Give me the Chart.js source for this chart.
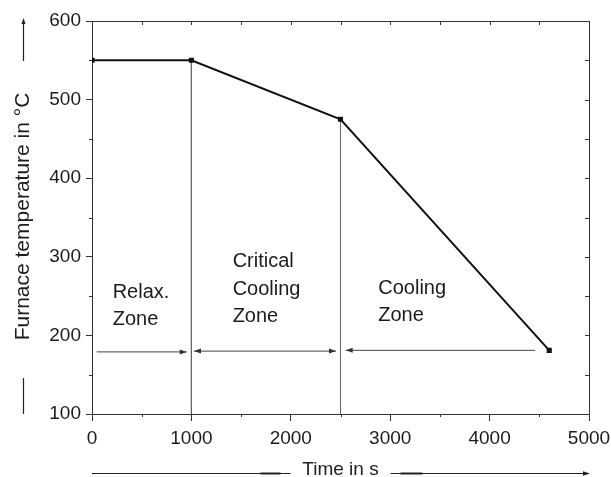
<!DOCTYPE html>
<html><head><meta charset="utf-8">
<script src="https://cdn.jsdelivr.net/npm/chart.js@4"></script>
<style>html,body{margin:0;padding:0;background:#fff}#wrap{width:611px;height:477px;position:relative}</style>
</head><body><div id="wrap"><canvas id="c"></canvas></div>
<script>
// ---- data ----
const timeS = [0, 1000, 2500, 4600];
const furnaceTempC = [550, 550, 475, 181];
const boundaryTimes = [1000, 2500];
const boundaryTopTemps = [550, 475];
const arrowStartTimes = [47, 1026, 2552];
const arrowEndTimes = [953, 2455, 4457];
const arrowTemps = [179, 180, 181];
const arrowHeads = ['end', 'both', 'start'];
const zoneLabels = [['Relax.', 'Zone'], ['Critical', 'Cooling', 'Zone'], ['Cooling', 'Zone']];
const zoneLabelTimes = [208, 1415, 2880];
const zoneLabelTemps = [248, 287, 253];
const xTickStep = 1000, xMinorStep = 500;
const yTickStep = 100, yMinorStep = 50;
const xTitle = 'Time in s';
const yTitle = 'Furnace temperature in °C';

const FONT = '"Liberation Sans", Arial, sans-serif';
const INK = '#1c1c1c';

const datasets = [{
  data: timeS.map((t, i) => ({x: t, y: furnaceTempC[i]})),
  showLine: true, borderColor: '#111', backgroundColor: '#111', borderWidth: 2,
  pointStyle: 'rect', pointRadius: 2.2, pointHoverRadius: 2.2, tension: 0
}];
boundaryTimes.forEach((t, i) => datasets.push({
  data: [{x: t, y: boundaryTopTemps[i]}, {x: t, y: 100}],
  showLine: true, borderColor: '#666', borderWidth: 1, pointRadius: 0
}));
arrowStartTimes.forEach((t, i) => datasets.push({
  data: [{x: t, y: arrowTemps[i]}, {x: arrowEndTimes[i], y: arrowTemps[i]}],
  showLine: true, borderColor: '#444', borderWidth: 1, pointRadius: 0
}));

function arrowHead(ctx, x, y, dir, len, half) {
  ctx.beginPath();
  if (dir === 'up') {
    ctx.moveTo(x, y); ctx.lineTo(x - half, y + len); ctx.lineTo(x + half, y + len);
  } else {
    ctx.moveTo(x, y); ctx.lineTo(x - dir * len, y - half); ctx.lineTo(x - dir * len, y + half);
  }
  ctx.closePath(); ctx.fill();
}

const decor = {
  id: 'decor',
  afterDraw(chart) {
    const {ctx, chartArea: ca, scales: {x, y}} = chart;
    ctx.save();
    ctx.strokeStyle = '#333'; ctx.lineWidth = 1;
    ctx.beginPath();
    ctx.moveTo(Math.round(ca.left) + 0.5, Math.round(ca.top) + 0.5);
    ctx.lineTo(Math.round(ca.right) + 0.5, Math.round(ca.top) + 0.5);
    ctx.lineTo(Math.round(ca.right) + 0.5, Math.round(ca.bottom) + 0.5);
    ctx.stroke();
    ctx.beginPath();
    for (let v = x.min; v <= x.max; v += xMinorStep) {
      const px = Math.round(x.getPixelForValue(v)) + 0.5;
      ctx.moveTo(px, ca.top); ctx.lineTo(px, ca.top + 4);
      if (v % xTickStep !== 0) { ctx.moveTo(px, ca.bottom); ctx.lineTo(px, ca.bottom + 3); }
    }
    for (let v = y.min; v <= y.max; v += yMinorStep) {
      const py = Math.round(y.getPixelForValue(v)) + 0.5;
      ctx.moveTo(ca.right, py); ctx.lineTo(ca.right - 4, py);
      if (v % yTickStep !== 0) { ctx.moveTo(ca.left, py); ctx.lineTo(ca.left - 3, py); }
    }
    ctx.stroke();
    ctx.fillStyle = '#333';
    arrowStartTimes.forEach((t, i) => {
      const py = y.getPixelForValue(arrowTemps[i]);
      if (arrowHeads[i] === 'end' || arrowHeads[i] === 'both') arrowHead(ctx, x.getPixelForValue(arrowEndTimes[i]), py, 1, 7, 2.5);
      if (arrowHeads[i] === 'start' || arrowHeads[i] === 'both') arrowHead(ctx, x.getPixelForValue(t), py, -1, 7, 2.5);
    });
    ctx.fillStyle = INK; ctx.font = '20px ' + FONT; ctx.textAlign = 'left'; ctx.textBaseline = 'alphabetic';
    zoneLabels.forEach((lines, i) => {
      const px = x.getPixelForValue(zoneLabelTimes[i]);
      const py = y.getPixelForValue(zoneLabelTemps[i]);
      lines.forEach((s, k) => ctx.fillText(s, px, py + k * 27.5));
    });
    const ty = (ca.top + ca.bottom) / 2 - 1;
    ctx.save();
    ctx.translate(23, ty); ctx.rotate(-Math.PI / 2);
    ctx.font = '21px ' + FONT; ctx.textAlign = 'center'; ctx.textBaseline = 'middle';
    ctx.fillText(yTitle, 0, 0);
    ctx.restore();
    ctx.strokeStyle = '#222'; ctx.lineWidth = 1.2;
    ctx.beginPath();
    ctx.moveTo(23.5, ca.top + 40); ctx.lineTo(23.5, ca.top - 1);
    ctx.moveTo(23.5, ca.bottom - 36); ctx.lineTo(23.5, ca.bottom);
    ctx.stroke();
    ctx.fillStyle = '#222';
    arrowHead(ctx, 23.5, ca.top - 3, 'up', 6, 2);
    const tx = (ca.left + ca.right) / 2;
    const tyX = 470;
    ctx.font = '19px ' + FONT; ctx.textAlign = 'center'; ctx.textBaseline = 'middle';
    ctx.fillText(xTitle, tx, tyX);
    ctx.beginPath();
    ctx.moveTo(ca.left, tyX + 3.5); ctx.lineTo(tx - 50, tyX + 3.5);
    ctx.moveTo(tx + 50, tyX + 3.5); ctx.lineTo(ca.right - 3, tyX + 3.5);
    ctx.stroke();
    ctx.lineWidth = 2.2;
    ctx.beginPath();
    ctx.moveTo(tx - 80, tyX + 3.5); ctx.lineTo(tx - 60, tyX + 3.5);
    ctx.moveTo(tx + 60, tyX + 3.5); ctx.lineTo(tx + 82, tyX + 3.5);
    ctx.stroke();
    arrowHead(ctx, ca.right + 1, tyX + 3.5, 1, 7, 2.2);
    ctx.restore();
  }
};

new Chart(document.getElementById('c'), {
  type: 'scatter',
  data: {datasets},
  options: {
    responsive: true, maintainAspectRatio: false, animation: false,
    events: [],
    layout: {padding: {top: 21, right: 22, left: 0, bottom: 0}},
    plugins: {legend: {display: false}, tooltip: {enabled: false}},
    scales: {
      x: {
        type: 'linear', min: 0, max: 5000,
        ticks: {stepSize: xTickStep, color: INK, font: {family: FONT, size: 19}, padding: 6, maxRotation: 0,
                callback: v => String(v)},
        grid: {drawOnChartArea: false, tickLength: 7, color: '#333', lineWidth: 1},
        border: {color: '#333', width: 1},
        afterFit: s => { s.height = 63; s.paddingLeft = 0; s.paddingRight = 0; }
      },
      y: {
        type: 'linear', min: 100, max: 600,
        ticks: {stepSize: yTickStep, color: INK, font: {family: FONT, size: 19}, padding: 5,
                callback: v => String(v)},
        grid: {drawOnChartArea: false, tickLength: 6, color: '#333', lineWidth: 1},
        border: {color: '#333', width: 1},
        afterFit: s => { s.width = 92; s.paddingTop = 0; s.paddingBottom = 0; }
      }
    }
  },
  plugins: [decor]
});
</script></body></html>
